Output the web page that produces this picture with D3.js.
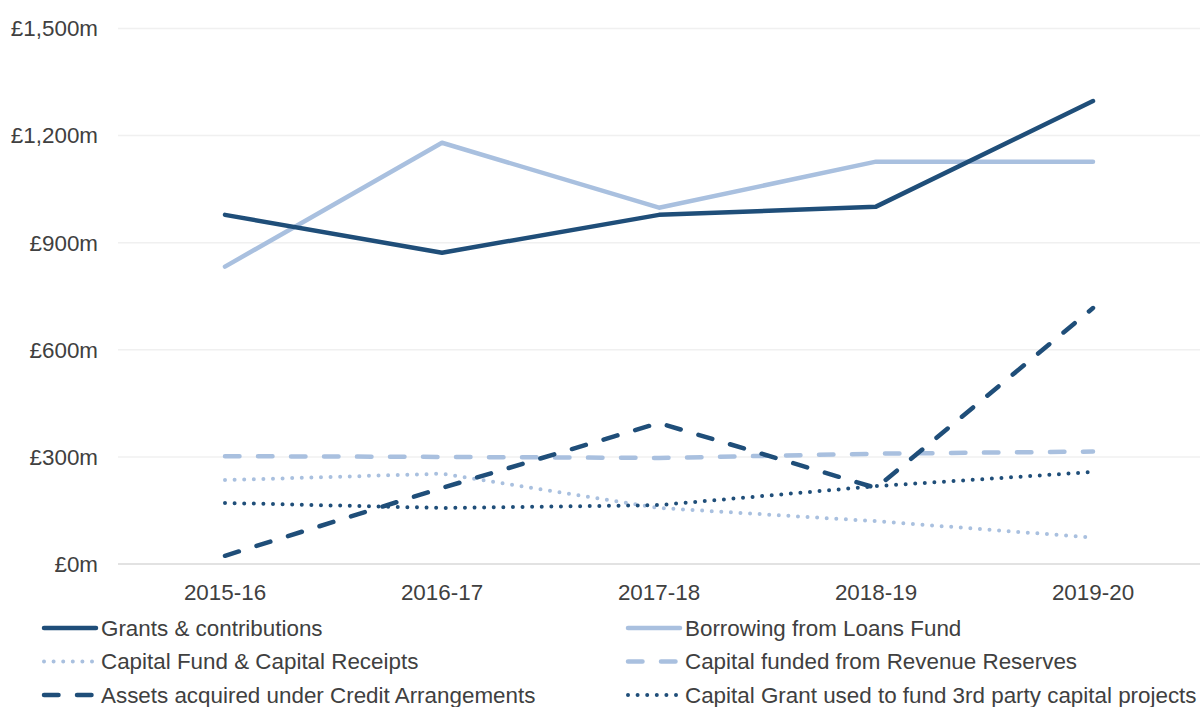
<!DOCTYPE html>
<html>
<head>
<meta charset="utf-8">
<script src="https://cdn.jsdelivr.net/npm/d3@7"></script>
<style>
  body { margin: 0; background: #fff; }
  svg { display: block; font-family: "Liberation Sans", Arial, sans-serif; }
</style>
</head>
<body>
<svg width="1200" height="707"></svg>
<script>
// years along the x axis
var years = ["2015-16", "2016-17", "2017-18", "2018-19", "2019-20"];

// £m
var grants = [978, 872, 978, 1001, 1297];
var borrowing = [833, 1180, 998, 1127, 1127];
var capitalFund = [235, 253, 157, 120, 74];
var revenueReserves = [302, 300, 297, 309, 315];
var creditAssets = [23, 213, 395, 213, 717];
var thirdParty = [171, 157, 165, 218, 258];

var yTicks = [0, 300, 600, 900, 1200, 1500];

var dark = "#1f4e79", light = "#a9c0df";

var series = [
  { name: "Grants & contributions", values: grants, color: dark, dash: null, w: 4.5 },
  { name: "Borrowing from Loans Fund", values: borrowing, color: light, dash: null, w: 4.5 },
  { name: "Capital Fund & Capital Receipts", values: capitalFund, color: light, dash: "0,9.6", w: 4 },
  { name: "Capital funded from Revenue Reserves", values: revenueReserves, color: light, dash: "14.5,18.5", w: 4.5 },
  { name: "Assets acquired under Credit Arrangements", values: creditAssets, color: dark, dash: "14.5,18.5", w: 4.5 },
  { name: "Capital Grant used to fund 3rd party capital projects", values: thirdParty, color: dark, dash: "0,9.6", w: 4 }
];

var fontSize = 22.4;

var svg = d3.select("svg");

var x = d3.scalePoint().domain(years).range([116.5, 1201.5]).padding(0.5);
var y = d3.scaleLinear().domain([0, 1500]).range([564, 28.5]);

// gridlines
svg.append("g").selectAll("line")
  .data(yTicks)
  .enter().append("line")
  .attr("x1", 118).attr("x2", 1200)
  .attr("y1", function(d) { return y(d); })
  .attr("y2", function(d) { return y(d); })
  .attr("stroke", function(d) { return d == 0 ? "#d9d9d9" : "#f0f0f0"; })
  .attr("stroke-width", 1.5);

// y labels
svg.append("g").selectAll("text")
  .data(yTicks)
  .enter().append("text")
  .attr("x", 98)
  .attr("y", function(d) { return y(d); })
  .attr("dy", "0.35em")
  .attr("text-anchor", "end")
  .attr("font-size", fontSize)
  .attr("fill", "#404040")
  .text(function(d) { return "£" + d3.format(",")(d) + "m"; });

// x labels
svg.append("g").selectAll("text")
  .data(years)
  .enter().append("text")
  .attr("x", function(d) { return x(d); })
  .attr("y", 600)
  .attr("text-anchor", "middle")
  .attr("font-size", fontSize)
  .attr("fill", "#404040")
  .text(function(d) { return d; });

var line = d3.line()
  .x(function(d, i) { return x(years[i]); })
  .y(function(d) { return y(d); });

// draw back to front so the solid lines sit on top
var order = [2, 5, 3, 4, 1, 0];
order.forEach(function(k) {
  var s = series[k];
  svg.append("path")
    .attr("d", line(s.values))
    .attr("fill", "none")
    .attr("stroke", s.color)
    .attr("stroke-width", s.w)
    .attr("stroke-linecap", "round")
    .attr("stroke-linejoin", "round")
    .attr("stroke-dasharray", s.dash);
});

// legend, two columns
var legend = svg.append("g").selectAll("g")
  .data(series)
  .enter().append("g")
  .attr("transform", function(d, i) {
    var col = i % 2, row = Math.floor(i / 2);
    return "translate(" + (col == 0 ? 42 : 626) + "," + (628 + row * 33.5) + ")";
  });

legend.append("line")
  .attr("x1", 2).attr("x2", 54)
  .attr("y1", 0).attr("y2", 0)
  .attr("stroke", function(d) { return d.color; })
  .attr("stroke-width", function(d) { return d.w; })
  .attr("stroke-linecap", "round")
  .attr("stroke-dasharray", function(d) { return d.dash; });

legend.append("text")
  .attr("x", 59)
  .attr("y", 0)
  .attr("dy", "0.35em")
  .attr("font-size", fontSize)
  .attr("fill", "#404040")
  .text(function(d) { return d.name; });
</script>
</body>
</html>
